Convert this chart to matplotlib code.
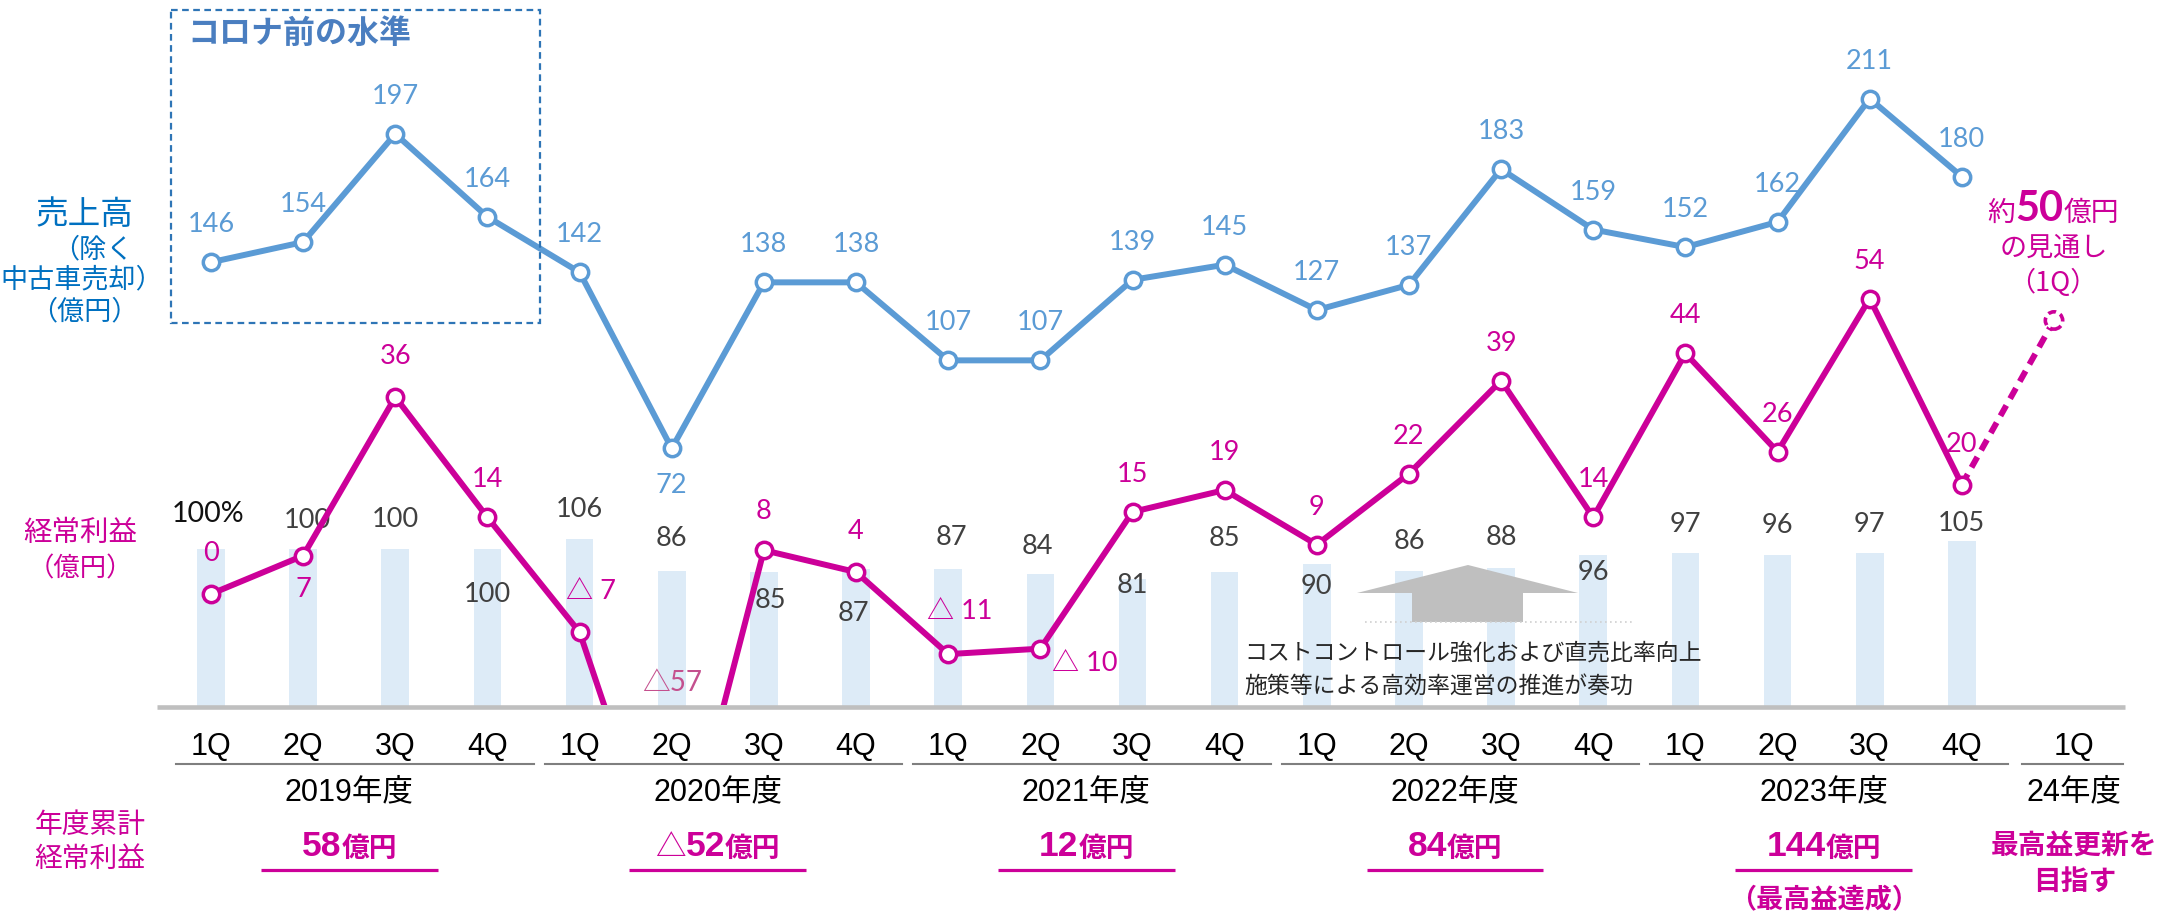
import matplotlib
matplotlib.use('Agg')
import matplotlib.pyplot as plt
from matplotlib import font_manager as fm
from matplotlib.patches import Rectangle, Polygon
from matplotlib.offsetbox import TextArea, HPacker, AnnotationBbox

# ---------------- data ----------------
quarters = ['1Q', '2Q', '3Q', '4Q'] * 5 + ['1Q']
fiscal_years = ['2019年度', '2020年度', '2021年度', '2022年度', '2023年度', '24年度']
sales = [146, 154, 197, 164, 142, 72, 138, 138, 107, 107,
         139, 145, 127, 137, 183, 159, 152, 162, 211, 180]
profit = [0, 7, 36, 14, -7, -57, 8, 4, -11, -10,
          15, 19, 9, 22, 39, 14, 44, 26, 54, 20]
profit_forecast = 50
ratio = [100, 100, 100, 100, 106, 86, 85, 87, 87, 84,
         81, 85, 90, 86, 88, 96, 97, 96, 97, 105]
annual_profit = ['58', '△52', '12', '84', '144']

# ---------------- fonts ----------------
names = {f.name for f in fm.fontManager.ttflist}
def pick(*cands):
    for n in cands:
        if n in names:
            return n
    return 'DejaVu Sans'
CJK = 'Noto Sans CJK JP'
LAT = pick('Liberation Sans', 'Arial', 'DejaVu Sans')
NUM = pick('Lato', 'Open Sans', 'DejaVu Sans')
plt.rcParams['font.family'] = [CJK, 'DejaVu Sans']

# ---------------- colours ----------------
BLUE = '#5B9BD5'
BLUE_DARK = '#0070C0'
MAG = '#CC0099'
MAG_LIGHT = '#C4508E'
BAR = '#DDEBF7'
GRAY = '#BFBFBF'
TXT = '#404040'

W, H = 2177, 915
fig = plt.figure(figsize=(W / 100, H / 100), dpi=100)
X0, DX = 211.0, 92.15
XLIM = (-X0 / DX, (W - X0) / DX)
def ix(px):
    return (px - X0) / DX

def mkax(ylim):
    a = fig.add_axes([0, 0, 1, 1])
    a.set_xlim(*XLIM)
    a.set_ylim(*ylim)
    a.axis('off')
    a.patch.set_alpha(0)
    return a

ax_b = mkax((-131.2, 446.1))   # ratio bars
ax_p = mkax((-58.7, 108.6))    # ordinary profit
ax_s = mkax((-113.4, 250.2))   # sales
ax_o = mkax((H, 0))            # overlay: y in pixels from top

idx = list(range(len(sales)))
LW, MS, MEW = 4.3, 11.8, 2.5
LFS = 19.5

# ---------------- bars ----------------
ax_b.bar(idx, ratio, width=0.30, color=BAR, zorder=1)
bar_off = [(-2, 25), (3, 20), (0, 21), (0, -33), (0, 21), (0, 23), (5, -20), (-2, -32),
           (2, 23), (-2, 20), (0, -5), (0, 24), (0, -16), (0, 21), (0, 22), (0, -13),
           (0, 21), (0, 21), (0, 21), (0, 12)]
for i, v in enumerate(ratio):
    lab = f'{v}%' if i == 0 else f'{v}'
    ax_b.annotate(lab, (i, v), xytext=bar_off[i], textcoords='offset points',
                  ha='center', va='center', fontsize=LFS + (1 if i == 0 else 0),
                  family=[NUM, CJK], color='#111111' if i == 0 else TXT, zorder=3)

# ---------------- profit line ----------------
clip = Rectangle((0, (H - 705) / H), 1, 1, transform=ax_p.transAxes)
ax_p.plot([idx[-1], idx[-1] + 1], [profit[-1], profit_forecast], color=MAG, lw=LW,
          ls=(0, (2.0, 1.3)), zorder=2)
ax_p.scatter([idx[-1] + 1], [profit_forecast], s=12.5 ** 2, facecolor='white',
             edgecolor=MAG, linewidths=2.6, linestyle=(0, (2.2, 1.3)), zorder=4)
pl, = ax_p.plot(idx, profit, color=MAG, lw=LW, marker='o', ms=MS, mfc='white',
                mec=MAG, mew=MEW, zorder=3)
pl.set_clip_path(clip)

prof_off = [(0, 29), (0, -24), (0, 29), (0, 27), (8, 29), None, (0, 28), (0, 29),
            (8, 31), (32, -11), (0, 27), (0, 27), (0, 27), (0, 27), (0, 27), (0, 27),
            (0, 27), (0, 27), (0, 27), (0, 29)]
for i, v in enumerate(profit):
    if prof_off[i] is None:
        continue
    lab = f'△ {-v}' if v < 0 else f'{v}'
    ax_p.annotate(lab, (i, v), xytext=prof_off[i], textcoords='offset points',
                  ha='center', va='center', fontsize=LFS, family=[NUM, CJK],
                  color=MAG, zorder=5)
# off-scale value label, placed at the baseline
ax_o.text(5, 683, f'△{-profit[5]}', ha='center', va='center', fontsize=20,
          family=[NUM, CJK], color=MAG_LIGHT)

# ---------------- sales line ----------------
ax_s.plot(idx, sales, color=BLUE, lw=LW, marker='o', ms=MS, mfc='white',
          mec=BLUE, mew=MEW, zorder=3)
for i, v in enumerate(sales):
    dy = -27 if i == 5 else 27
    ax_s.annotate(f'{v}', (i, v), xytext=(0, dy), textcoords='offset points',
                  ha='center', va='center', fontsize=LFS, family=[NUM, CJK],
                  color=BLUE, zorder=5)

# ---------------- baseline & category axis ----------------
ax_o.plot([ix(157), ix(2125)], [707, 707], color=GRAY, lw=3.3, solid_capstyle='butt')
qx = list(range(20)) + [20.22]
for i, q in enumerate(quarters):
    ax_o.text(qx[i], 747, q, ha='center', va='center', fontsize=22, family=[LAT, CJK],
              color='black')
groups = [(0, 3), (4, 7), (8, 11), (12, 15), (16, 19)]
for g, (a, b) in enumerate(groups):
    ax_o.plot([a - 0.38, b + 0.5], [764, 764], color='#7F7F7F', lw=1.5)
    ax_o.text((a + b) / 2, 792, fiscal_years[g], ha='center', va='center', fontsize=22,
              family=[LAT, CJK], color='black')
ax_o.plot([20 - 0.35, 20 + 0.75], [764, 764], color='#7F7F7F', lw=1.5)
ax_o.text(20.22, 792, fiscal_years[5], ha='center', va='center', fontsize=22,
          family=[LAT, CJK], color='black')

# ---------------- annual cumulative profit ----------------
def packed(x, y, parts):
    areas = []
    for t, fs, fw, fam in parts:
        areas.append(TextArea(t, textprops=dict(fontsize=fs, fontweight=fw, color=MAG,
                                                family=fam)))
    box = HPacker(children=areas, align='baseline', pad=0, sep=0)
    ab = AnnotationBbox(box, (x, y), xycoords='data', frameon=False,
                        box_alignment=(0.5, 0.5), pad=0)
    ax_o.add_artist(ab)

for g, (a, b) in enumerate(groups):
    c = (a + b) / 2
    val = annual_profit[g]
    parts = []
    if val.startswith('△'):
        parts.append(('△', 22, 'normal', [CJK]))
        val = val[1:]
    parts.append((val, 25.5, 'bold', [LAT]))
    parts.append(('億円', 20, 'bold', [CJK]))
    packed(c, 847, parts)
    ax_o.plot([c - 0.96, c + 0.96], [870, 870], color=MAG, lw=2.3, solid_capstyle='butt')
ax_o.text(17.5, 900, '（最高益達成）', ha='center', va='center', fontsize=19.5,
          fontweight='bold', color=MAG)
ax_o.text(20.22, 847, '最高益更新を', ha='center', va='center', fontsize=20,
          fontweight='bold', color=MAG)
ax_o.text(20.22, 882, '目指す', ha='center', va='center', fontsize=20,
          fontweight='bold', color=MAG)
ax_o.text(ix(90), 825, '年度累計', ha='center', va='center', fontsize=20, color=MAG)
ax_o.text(ix(90), 859, '経常利益', ha='center', va='center', fontsize=20, color=MAG)

# ---------------- left titles ----------------
ax_o.text(ix(84), 215, '売上高', ha='center', va='center', fontsize=23.5, color=BLUE_DARK)
ax_o.text(ix(93), 250, '（除く', ha='center', va='center', fontsize=19.5, color=BLUE_DARK)
ax_o.text(ix(82), 280, '中古車売却）', ha='center', va='center', fontsize=19.5,
          color=BLUE_DARK)
ax_o.text(ix(84), 312, '（億円）', ha='center', va='center', fontsize=19.5, color=BLUE_DARK)
ax_o.text(ix(80), 533, '経常利益', ha='center', va='center', fontsize=20.5, color=MAG)
ax_o.text(ix(80), 569, '（億円）', ha='center', va='center', fontsize=19, color=MAG)

# ---------------- pre-COVID box ----------------
ax_o.add_patch(Rectangle((ix(171), 10), ix(540) - ix(171), 313, fill=False,
                         edgecolor='#2E75B6', lw=1.6, ls=(0, (3, 2))))
ax_o.text(ix(187), 34, 'コロナ前の水準', ha='left', va='center', fontsize=23,
          fontweight='bold', color='#4A7EC0')

# ---------------- forecast note ----------------
packed(ix(2053), 209, [('約', 20, 'normal', [CJK]), ('50', 30, 'bold', [NUM]),
                      ('億円', 20, 'normal', [CJK])])
ax_o.text(ix(2054), 248, 'の見通し', ha='center', va='center', fontsize=19.5, color=MAG)
ax_o.text(ix(2053), 283, '（1Q）', ha='center', va='center', fontsize=19.5, color=MAG)

# ---------------- arrow & comment ----------------
arrow_px = [(1468, 565), (1578, 593), (1523, 593), (1523, 622), (1412, 622),
            (1412, 593), (1357, 593)]
ax_o.add_patch(Polygon([(ix(x), y) for x, y in arrow_px], closed=True,
                       facecolor=GRAY, edgecolor='none'))
ax_o.plot([ix(1365), ix(1633)], [622, 622], color='#D0D0D0', lw=1.2, ls=(0, (1, 2)))
ax_o.text(ix(1244), 653, 'コストコントロール強化および直売比率向上', ha='left', va='center',
          fontsize=16.5, color='#262626')
ax_o.text(ix(1244), 686, '施策等による高効率運営の推進が奏功', ha='left', va='center',
          fontsize=16.5, color='#262626')

fig.savefig('out.png', dpi=100)
